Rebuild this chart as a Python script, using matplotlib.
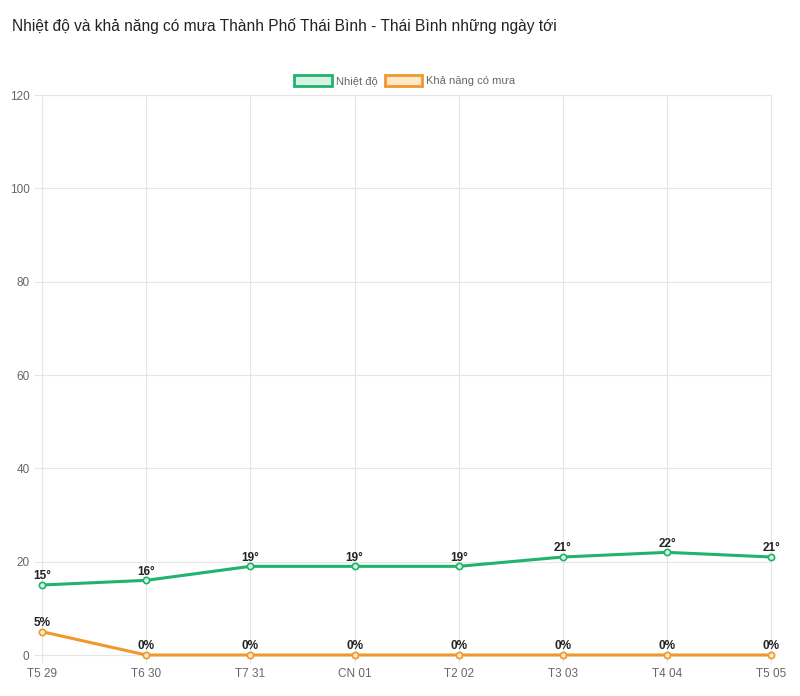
import matplotlib.pyplot as plt
from matplotlib.patches import Rectangle

plt.rcParams['font.family'] = ['Liberation Sans', 'DejaVu Sans']

days = ['T5 29', 'T6 30', 'T7 31', 'CN 01', 'T2 02', 'T3 03', 'T4 04', 'T5 05']
temps = [15, 16, 19, 19, 19, 21, 22, 21]
rain = [5, 0, 0, 0, 0, 0, 0, 0]

green = '#1fb36b'
orange = '#f0982b'

fig = plt.figure(figsize=(8, 6.96), dpi=100)
ax = fig.add_axes([0.0525, 0.0589, 0.9115, 0.8046])

x = list(range(len(days)))
ax.plot(x, temps, color=green, lw=2.2, marker='o', ms=4.5, mfc='#d8f2e4', mec=green, mew=1.2,
        zorder=3, clip_on=False)
ax.plot(x, rain, color=orange, lw=2.2, marker='o', ms=4.5, mfc='#fde8cc', mec=orange, mew=1.2,
        zorder=3, clip_on=False)

for xi, t in zip(x, temps):
    ax.annotate(f'{t}°', (xi, t), xytext=(0, 2), textcoords='offset points',
                ha='center', va='bottom', fontsize=8.5, fontweight='bold', color='#222222')
for xi, r in zip(x, rain):
    ax.annotate(f'{r}%', (xi, r), xytext=(0, 2), textcoords='offset points',
                ha='center', va='bottom', fontsize=8.5, fontweight='bold', color='#222222')

ax.set_xlim(0, len(days) - 1)
ax.set_ylim(0, 120)
ax.set_yticks(range(0, 121, 20))
ax.set_xticks(x)
ax.set_xticklabels(days)
ax.grid(True, color='#e6e6e6', lw=0.8)
ax.set_axisbelow(True)
for s in ax.spines.values():
    s.set_color('#e6e6e6')
    s.set_linewidth(0.8)
ax.tick_params(colors='#e6e6e6', labelcolor='#666666', labelsize=8.5, length=6, width=0.8, pad=3)

fig.text(0.015, 0.963, 'Nhiệt độ và khả năng có mưa Thành Phố Thái Bình - Thái Bình những ngày tới',
         fontsize=11.2, color='#222222', va='center', ha='left')

# legend drawn like the chart.js boxes
ly = 0.884
fig.patches.append(Rectangle((0.368, ly - 0.008), 0.047, 0.016, transform=fig.transFigure,
                             facecolor='#d8f2e4', edgecolor=green, lw=2))
fig.text(0.42, ly, 'Nhiệt độ', fontsize=8, color='#666666', va='center', ha='left')
fig.patches.append(Rectangle((0.481, ly - 0.008), 0.047, 0.016, transform=fig.transFigure,
                             facecolor='#fde8cc', edgecolor=orange, lw=2))
fig.text(0.533, ly, 'Khả năng có mưa', fontsize=8, color='#666666', va='center', ha='left')

fig.savefig('out.png', dpi=100)
